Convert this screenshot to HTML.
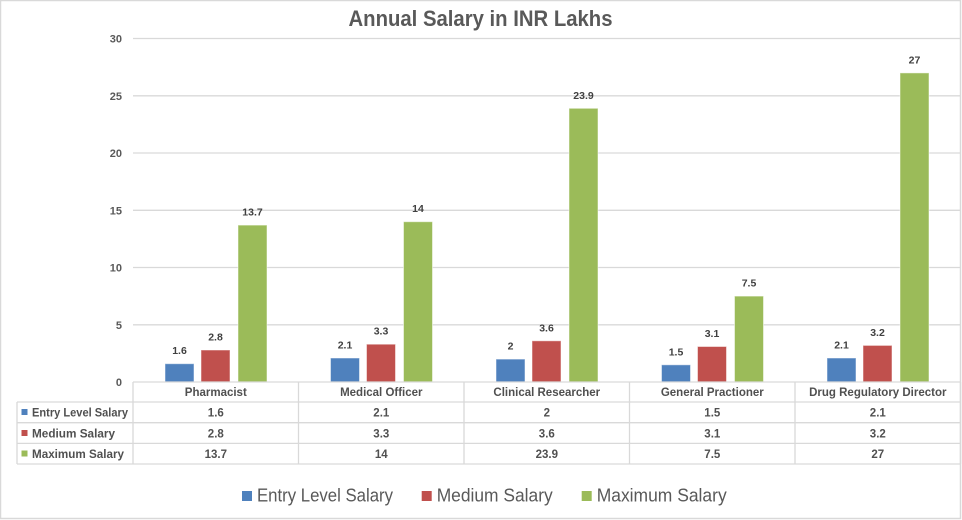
<!DOCTYPE html>
<html><head><meta charset="utf-8"><style>
html,body{margin:0;padding:0;background:#fff;}
svg{display:block;font-family:"Liberation Sans",Arial,sans-serif;}
</style></head><body>
<svg width="962" height="520" viewBox="0 0 962 520" xmlns="http://www.w3.org/2000/svg">
<rect x="0.5" y="0.5" width="960" height="518" fill="#fff" stroke="#d9d9d9" stroke-width="1.5"/>
<text x="480.5" y="26" text-anchor="middle" font-size="22" font-weight="bold" fill="#595959" textLength="264" lengthAdjust="spacingAndGlyphs">Annual Salary in INR Lakhs</text>
<!-- gridlines -->
<g stroke="#d9d9d9" stroke-width="1.3">
<line x1="133" y1="38.5" x2="960" y2="38.5"/>
<line x1="133" y1="95.8" x2="960" y2="95.8"/>
<line x1="133" y1="153" x2="960" y2="153"/>
<line x1="133" y1="210.3" x2="960" y2="210.3"/>
<line x1="133" y1="267.5" x2="960" y2="267.5"/>
<line x1="133" y1="324.8" x2="960" y2="324.8"/>
</g>
<g font-size="11" font-weight="bold" fill="#595959" text-anchor="end">
<text x="122" y="42.5">30</text>
<text x="122" y="99.8">25</text>
<text x="122" y="157">20</text>
<text x="122" y="214.3">15</text>
<text x="122" y="271.5">10</text>
<text x="122" y="328.8">5</text>
<text x="122" y="386">0</text>
</g>
<!-- bars -->
<g stroke="#fff" stroke-opacity="0.5" stroke-width="1">
<rect x="165" y="363.7" width="29" height="18.3" fill="#4f81bd"/>
<rect x="201" y="350" width="29" height="32" fill="#c0504d"/>
<rect x="238" y="225.1" width="29" height="156.9" fill="#9bbb59"/>
<rect x="330.5" y="358" width="29" height="24" fill="#4f81bd"/>
<rect x="366.5" y="344.2" width="29" height="37.8" fill="#c0504d"/>
<rect x="403.5" y="221.7" width="29" height="160.3" fill="#9bbb59"/>
<rect x="496" y="359.1" width="29" height="22.9" fill="#4f81bd"/>
<rect x="532" y="340.8" width="29" height="41.2" fill="#c0504d"/>
<rect x="569" y="108.3" width="29" height="273.7" fill="#9bbb59"/>
<rect x="661.5" y="364.8" width="29" height="17.2" fill="#4f81bd"/>
<rect x="697.5" y="346.5" width="29" height="35.5" fill="#c0504d"/>
<rect x="734.5" y="296.1" width="29" height="85.9" fill="#9bbb59"/>
<rect x="827" y="358" width="29" height="24" fill="#4f81bd"/>
<rect x="863" y="345.4" width="29" height="36.6" fill="#c0504d"/>
<rect x="900" y="72.9" width="29" height="309.1" fill="#9bbb59"/>
</g>
<!-- data labels -->
<g font-size="10.5" font-weight="bold" fill="#404040" text-anchor="middle">
<text x="179.5" y="354.2">1.6</text>
<text x="215.5" y="340.5">2.8</text>
<text x="252.5" y="215.6">13.7</text>
<text x="345" y="348.5">2.1</text>
<text x="381" y="334.7">3.3</text>
<text x="418" y="212.2">14</text>
<text x="510.5" y="349.6">2</text>
<text x="546.5" y="331.3">3.6</text>
<text x="583.5" y="98.8">23.9</text>
<text x="676" y="355.3">1.5</text>
<text x="712" y="337">3.1</text>
<text x="749" y="286.6">7.5</text>
<text x="841.5" y="348.5">2.1</text>
<text x="877.5" y="335.9">3.2</text>
<text x="914.5" y="63.4">27</text>
</g>
<!-- data table -->
<g stroke="#d9d9d9" stroke-width="1.3" fill="none">
<line x1="133" y1="382" x2="960.5" y2="382"/>
<line x1="17" y1="402" x2="960.5" y2="402"/>
<line x1="17" y1="422.7" x2="960.5" y2="422.7"/>
<line x1="17" y1="443.4" x2="960.5" y2="443.4"/>
<line x1="17" y1="464" x2="960.5" y2="464"/>
<line x1="17" y1="402" x2="17" y2="464"/>
<line x1="133" y1="382" x2="133" y2="464"/>
<line x1="298.5" y1="382" x2="298.5" y2="464"/>
<line x1="464" y1="382" x2="464" y2="464"/>
<line x1="629.5" y1="382" x2="629.5" y2="464"/>
<line x1="795" y1="382" x2="795" y2="464"/>
<line x1="960.5" y1="382" x2="960.5" y2="464"/>
</g>
<g font-size="11.5" font-weight="bold" fill="#505050" text-anchor="middle">
<text x="215.8" y="396">Pharmacist</text>
<text x="381.3" y="396">Medical Officer</text>
<text x="546.8" y="396">Clinical Researcher</text>
<text x="712.3" y="396">General Practioner</text>
<text x="877.8" y="396">Drug Regulatory Director</text>
<text x="215.8" y="416.5">1.6</text>
<text x="381.3" y="416.5">2.1</text>
<text x="546.8" y="416.5">2</text>
<text x="712.3" y="416.5">1.5</text>
<text x="877.8" y="416.5">2.1</text>
<text x="215.8" y="437.3">2.8</text>
<text x="381.3" y="437.3">3.3</text>
<text x="546.8" y="437.3">3.6</text>
<text x="712.3" y="437.3">3.1</text>
<text x="877.8" y="437.3">3.2</text>
<text x="215.8" y="458">13.7</text>
<text x="381.3" y="458">14</text>
<text x="546.8" y="458">23.9</text>
<text x="712.3" y="458">7.5</text>
<text x="877.8" y="458">27</text>
</g>
<rect x="21.5" y="409" width="6" height="6" fill="#4f81bd"/>
<rect x="21.5" y="430" width="6" height="6" fill="#c0504d"/>
<rect x="21.5" y="450.5" width="6" height="6" fill="#9bbb59"/>
<g font-size="11.5" font-weight="bold" fill="#505050">
<text x="32" y="416.5" textLength="96" lengthAdjust="spacingAndGlyphs">Entry Level Salary</text>
<text x="32" y="437.3" textLength="83" lengthAdjust="spacingAndGlyphs">Medium Salary</text>
<text x="32" y="458" textLength="92" lengthAdjust="spacingAndGlyphs">Maximum Salary</text>
</g>
<!-- legend -->
<rect x="242" y="491" width="10" height="10" fill="#4f81bd"/>
<rect x="421.7" y="491" width="10" height="10" fill="#c0504d"/>
<rect x="581.7" y="491" width="10" height="10" fill="#9bbb59"/>
<g font-size="18" fill="#595959">
<text x="257" y="501.7" textLength="136" lengthAdjust="spacingAndGlyphs">Entry Level Salary</text>
<text x="436.7" y="501.7" textLength="116" lengthAdjust="spacingAndGlyphs">Medium Salary</text>
<text x="596.7" y="501.7" textLength="130" lengthAdjust="spacingAndGlyphs">Maximum Salary</text>
</g>
</svg>
</body></html>
